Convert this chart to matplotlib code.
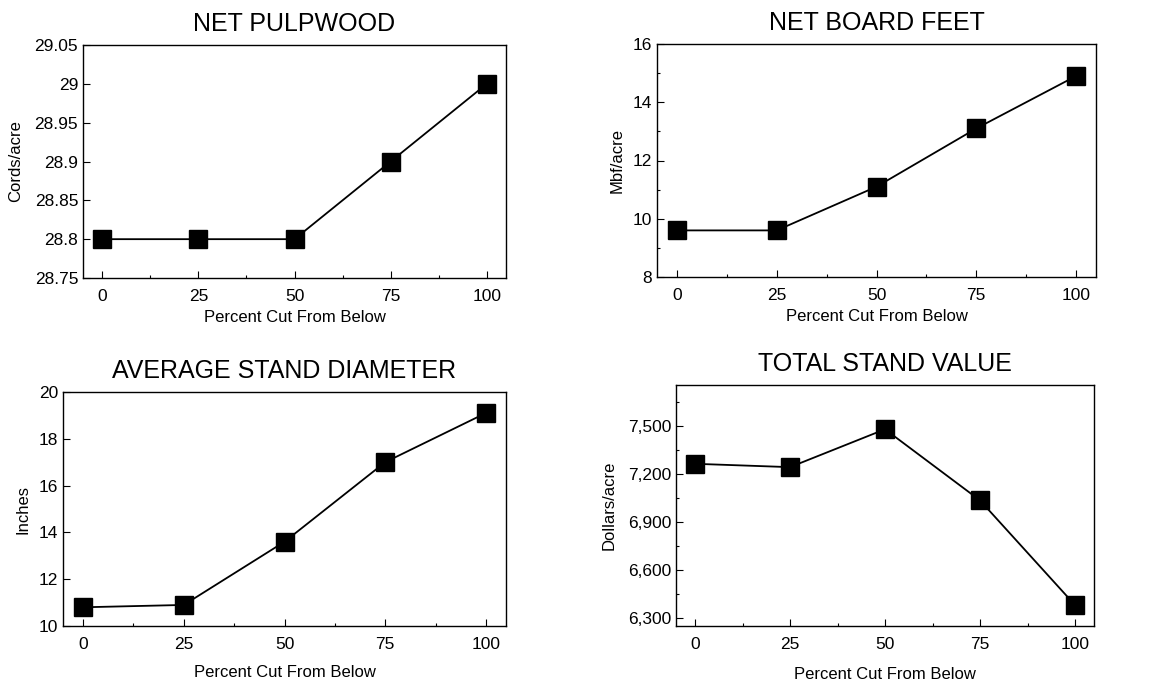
import matplotlib
matplotlib.use('Agg')
import matplotlib.pyplot as plt
from matplotlib.ticker import MultipleLocator, FuncFormatter

plt.rcParams['font.family'] = ['Liberation Sans', 'DejaVu Sans']

pct_cut = [0, 25, 50, 75, 100]
pulpwood = [28.8, 28.8, 28.8, 28.9, 29.0]
board_feet = [9.6, 9.6, 11.1, 13.1, 14.9]
diameter = [10.8, 10.9, 13.6, 17.0, 19.1]
stand_value = [7263, 7242, 7479, 7034, 6379]

titles = ['NET PULPWOOD', 'NET BOARD FEET', 'AVERAGE STAND DIAMETER', 'TOTAL STAND VALUE']
ylabels = ['Cords/acre', 'Mbf/acre', 'Inches', 'Dollars/acre']

fig = plt.figure(figsize=(11.5, 6.86), dpi=100)

# axes boxes in pixels: left, top, right, bottom
boxes = [(83, 45, 506, 278), (657, 44, 1096, 277),
         (63, 392, 506, 626), (676, 385, 1094, 626)]
W, H = 1150, 686
axes = []
for l, t, r, b in boxes:
    axes.append(fig.add_axes([l / W, 1 - b / H, (r - l) / W, (b - t) / H]))

series = [pulpwood, board_feet, diameter, stand_value]
ylims = [(28.75, 29.05), (8, 16), (10, 20), (6248, 7756)]
ymajor = [0.05, 2, 2, 300]
ylabpad = [8, 6, 6, 8]
xlabpad = [4, 4, 9, 11]

for i, ax in enumerate(axes):
    ax.plot(pct_cut, series[i], color='black', lw=1.3, marker='s', ms=12.5,
            markerfacecolor='black', markeredgecolor='black')
    ax.set_xlim(-5, 105)
    ax.set_ylim(*ylims[i])
    ax.set_xticks(pct_cut)
    ax.xaxis.set_minor_locator(MultipleLocator(12.5))
    ax.yaxis.set_major_locator(MultipleLocator(ymajor[i]))
    ax.tick_params(which='both', direction='in', labelsize=12.5, width=0.8)
    ax.tick_params(which='major', length=5)
    ax.tick_params(which='minor', length=2.5)
    ax.tick_params(axis='x', pad=8)
    ax.set_title(titles[i], fontsize=18, pad=10)
    ax.set_ylabel(ylabels[i], fontsize=12, labelpad=ylabpad[i])
    ax.set_xlabel('Percent Cut From Below', fontsize=12, labelpad=xlabpad[i])
    for s in ax.spines.values():
        s.set_linewidth(1.0)

axes[0].yaxis.set_major_formatter(FuncFormatter(lambda v, p: ('%.2f' % v).rstrip('0').rstrip('.')))
axes[1].yaxis.set_minor_locator(MultipleLocator(1))
axes[3].yaxis.set_minor_locator(MultipleLocator(150))
axes[3].yaxis.set_major_formatter(FuncFormatter(lambda v, p: '{:,.0f}'.format(v)))

fig.savefig('out.png', dpi=100)
